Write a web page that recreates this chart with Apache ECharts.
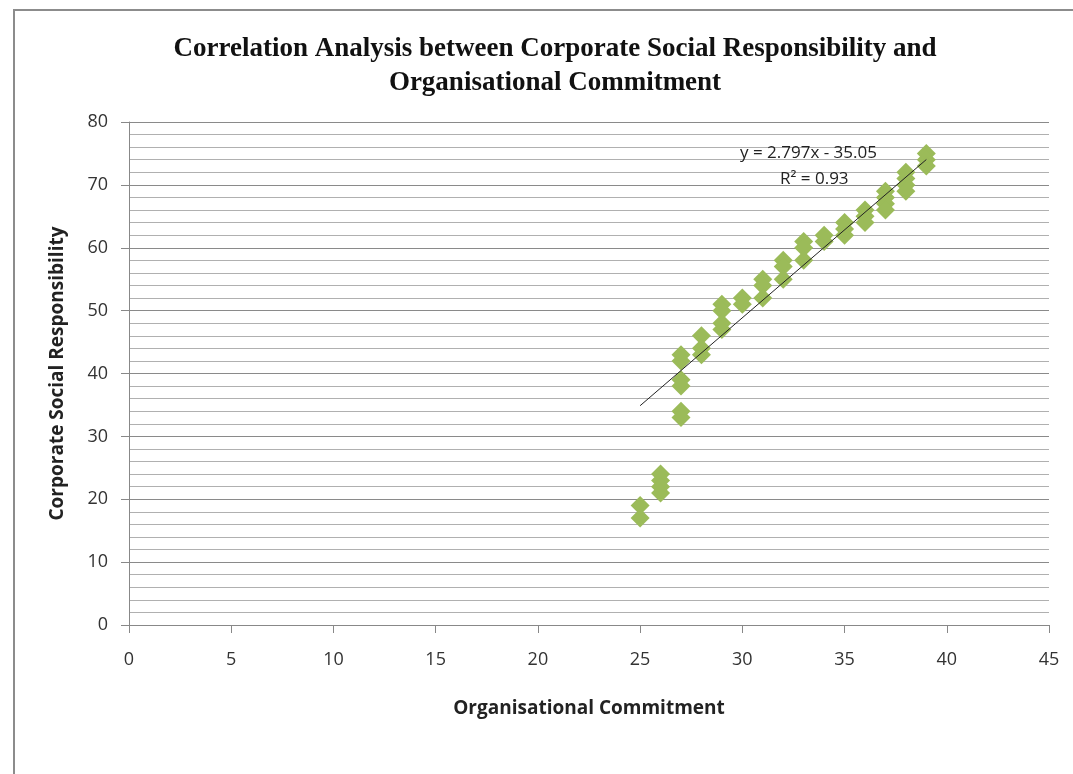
<!DOCTYPE html>
<html><head><meta charset="utf-8">
<script src="https://cdn.jsdelivr.net/npm/echarts@6/dist/echarts.min.js"></script>
<style>html,body{margin:0;padding:0;background:#fff}#c{width:1073px;height:774px}</style>
</head><body><div id="c"></div>
<script>
// Organisational Commitment (x) and Corporate Social Responsibility (y)
var commitment = [25,25, 26,26,26,26, 27,27,27,27,27,27, 28,28,28, 29,29,29,29, 30,30, 31,31,31, 32,32,32, 33,33,33, 34,34, 35,35,35, 36,36,36, 37,37,37,37, 38,38,38,38, 39,39,39];
var responsibility = [19,17, 24,23,22,21, 34,33,39,38,43,42, 46,44,43, 51,50,48,47, 52,51, 55,54,52, 58,57,55, 61,60,58, 62,61, 64,63,62, 66,65,64, 69,68,67,66, 72,71,70,69, 75,74,73];
var trendX = [25, 39];
var trendY = [34.88, 74.03];
var xTicks = [0,5,10,15,20,25,30,35,40,45];
var yTicks = [0,10,20,30,40,50,60,70,80];
var titleLines = ['Correlation Analysis between Corporate Social Responsibility and', 'Organisational Commitment'];
var eqText = 'y = 2.797x - 35.05';
var r2Text = 'R² = 0.93';

var pts = commitment.map(function(x,i){return [x, responsibility[i]];});
var trend = trendX.map(function(x,i){return [x, trendY[i]];});

var chart = echarts.init(document.getElementById('c'));
chart.setOption({
  animation:false,
  backgroundColor:'#fff',
  title:{
    text: titleLines.join('\n'),
    left: 550, top: 27, textAlign:'center',
    textStyle:{fontFamily:'Liberation Serif', fontWeight:'bold', fontSize:27, color:'#111', lineHeight:34}
  },
  grid:{left:129, right:24, top:122, bottom:149},
  xAxis:{
    type:'value', min:xTicks[0], max:xTicks[xTicks.length-1], interval:5,
    name:'Organisational Commitment', nameLocation:'middle', nameGap:74,
    nameTextStyle:{fontFamily:'Open Sans', fontWeight:'bold', fontSize:19, color:'#222'},
    axisLine:{show:true, lineStyle:{color:'#888', width:1}},
    axisTick:{show:true, length:8, lineStyle:{color:'#888'}},
    axisLabel:{fontFamily:'Open Sans', fontSize:18, color:'#333', margin:26},
    splitLine:{show:false}
  },
  yAxis:{
    type:'value', min:yTicks[0], max:yTicks[yTicks.length-1], interval:10,
    name:'Corporate Social Responsibility', nameLocation:'middle', nameGap:62,
    nameTextStyle:{fontFamily:'Open Sans', fontWeight:'bold', fontSize:19, color:'#222'},
    axisLine:{show:true, lineStyle:{color:'#888', width:1}},
    axisTick:{show:true, length:8, lineStyle:{color:'#888'}},
    axisLabel:{fontFamily:'Open Sans', fontSize:18, color:'#333', margin:21},
    splitLine:{show:true, lineStyle:{color:'#8a8a8a', width:1}},
    minorTick:{show:false, splitNumber:5},
    minorSplitLine:{show:true, lineStyle:{color:'#b0b0b0', width:1}}
  },
  series:[
    {type:'scatter', data:pts, symbol:'diamond', symbolSize:[19,19],
     itemStyle:{color:'#9BBB59', opacity:1}, z:3},
    {type:'line', data:trend, symbol:'none', lineStyle:{color:'#222', width:1}, z:4}
  ],
  graphic:[
    {type:'rect', shape:{x:14, y:10, width:1080, height:800}, style:{fill:'none', stroke:'#8c8c8c', lineWidth:2}, z:-1},
    {type:'text', left:740, top:145, style:{text:eqText, font:'17px "Open Sans"', fill:'#222'}, z:10},
    {type:'text', left:780, top:171, style:{text:r2Text, font:'17px "Open Sans"', fill:'#222'}, z:10}
  ]
});
</script></body></html>
